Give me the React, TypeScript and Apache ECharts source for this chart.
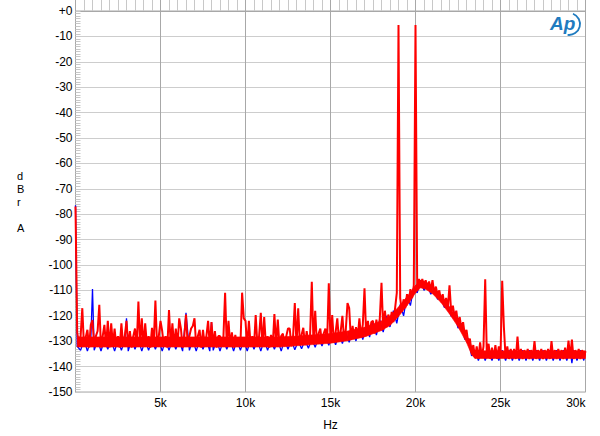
import React, { useEffect, useRef } from "react";
import * as echarts from "echarts";

// Red trace, one value per 100 Hz bin from 0 Hz to 30 kHz (dBr A)
const redStepHz = 100;
const redDb: number[] = [
  -77, -126.5, -131, -128, -117, -132, -128.5, -125.5, -132.5, -123.6,
  -121.7, -132, -128, -126, -115.7, -132.5, -128, -123.6, -132, -122,
  -132.5, -123, -131.5, -125, -132, -128, -132.5, -123, -131.5, -128,
  -122, -132, -126, -132.5, -128, -125, -132, -114.4, -131.5, -121,
  -132, -123, -131.5, -128, -132.5, -124.7, -131, -114, -132, -128,
  -122, -126, -132, -128, -132.5, -117.7, -131.5, -123, -132, -125,
  -132, -121, -125, -132.5, -128, -119.5, -131.5, -128, -125, -124,
  -121, -132, -128, -125.5, -132.5, -125.5, -131.5, -128, -122, -132,
  -122.5, -131.5, -126, -132.5, -128, -128, -132, -128.5, -110.9, -132,
  -122, -131.5, -126.5, -132.5, -127.5, -132, -128.5, -132, -110.9, -121,
  -122, -132.5, -122, -131.5, -128, -132, -119.7, -131.5, -128, -118.8,
  -132, -120.5, -131.5, -128, -132.5, -127.5, -132, -119.3, -131.5, -121.5,
  -132, -128, -127, -132, -128, -125, -125, -132, -128, -115,
  -131.5, -117, -131.5, -127.5, -124.7, -131.5, -126, -131, -127.5, -106.6,
  -131, -118, -131, -127, -125, -131, -127, -125, -130.5, -107.2,
  -130.5, -119.7, -130.5, -126.5, -121, -130, -126, -120, -129.5, -125.5,
  -115, -117, -129.5, -124, -129, -124.5, -128.5, -121, -128.5, -123.5,
  -109.2, -128, -122, -127.5, -122.5, -122, -127, -121.5, -126, -121,
  -107, -125.5, -118, -124.5, -119.5, -123.5, -118.5, -122.5, -117, -111,
  -5.5, -113, -118.5, -113.5, -117, -111.5, -115, -109.5, -113, -108,
  -5.5, -109, -105.5, -108.5, -105.5, -109, -106, -109.5, -106.5, -110,
  -106, -111, -108.5, -112, -110, -114, -111.5, -115.5, -113, -117,
  -108, -118.5, -116, -120.5, -118, -123, -120.5, -125, -122.5, -127.5,
  -125.5, -130.5, -129, -134.5, -131.5, -136.5, -132, -137, -130.5, -136.5,
  -132, -105.6, -136.5, -131, -137, -132.5, -136.5, -131.5, -137, -132,
  -136, -106.2, -124.5, -136.5, -132, -137, -133, -136.5, -133, -137,
  -128.2, -136.5, -133, -137, -133.5, -136.5, -133, -137, -133.5, -136.5,
  -130, -137, -133.5, -136.5, -133, -137, -133.5, -136.5, -133, -137,
  -130, -136.5, -133.5, -137, -133, -136.5, -133.5, -137, -132.5, -136.5,
  -129.8, -136.5, -129.4, -137, -133.5, -136.5, -133, -137, -133.5, -136.5,
  -134,
];

// Extent of the dense red noise band: frequency, top and bottom (dBr A)
const bandHz = [100, 12000, 13000, 14000, 15000, 16000, 17000, 18000, 18500, 19000, 19500, 20000, 20300, 20600, 21000, 21500, 22000, 22500, 23000, 23300, 23500, 30000];
const bandTop = [-128.3, -128.3, -128, -127.5, -127, -126, -124.5, -122, -120, -116.5, -112.5, -108, -106, -106.5, -108.5, -112, -116.5, -121.5, -127.5, -132, -133.8, -133.8];
const bandBottom = [-132.3, -132.3, -131.8, -131.3, -130.8, -129.8, -128.3, -125.8, -123.8, -120.3, -116, -111, -109, -109.5, -111.3, -114.8, -119.3, -124.3, -130.5, -135.3, -136.8, -136.8];

// Blue trace as [Hz, dBr A] readings
const bluePoints: [number, number][] = [
  [0, -76.5], [100, -132], [300, -133.6], [500, -129.5], [700, -133.9], [900, -129.5],
  [1000, -109.5], [1100, -133.6], [1300, -129.5], [1500, -133.9], [1700, -129.5], [1900, -133.2],
  [2100, -129.5], [2300, -133.9], [2500, -129.5], [2700, -133.6], [2900, -129.5], [3000, -121],
  [3100, -133.9], [3300, -129.5], [3500, -133.2], [3700, -129.5], [3900, -133.9], [4100, -129.5],
  [4300, -133.6], [4500, -129.5], [4700, -133.2], [4900, -129.5], [5100, -133.9], [5300, -129.5],
  [5500, -133.6], [5700, -129.5], [5900, -133.2], [6100, -129.5], [6300, -133.9], [6500, -118.8],
  [6700, -133.6], [6900, -129.5], [7100, -133.9], [7300, -129.5], [7500, -133.2], [7700, -129.5],
  [7900, -133.9], [8000, -122.5], [8100, -133.6], [8300, -129.5], [8500, -133.9], [8700, -129.5],
  [8900, -133.2], [9100, -129.5], [9300, -133.9], [9500, -129.5], [9700, -133.6], [9900, -129.5],
  [10100, -133.9], [10300, -129.5], [10500, -133.2], [10700, -129.5], [10900, -133.9], [11100, -129.5],
  [11300, -133.6], [11500, -129.5], [11700, -133.2], [11900, -129.5], [12100, -133.9], [12300, -129.5],
  [12500, -133.2], [12700, -129.5], [12900, -133.4], [13100, -130], [13300, -133], [13500, -129.5],
  [13700, -132.8], [13900, -129], [14100, -132.4], [14300, -128.5], [14500, -131.9], [14700, -128],
  [14900, -131.6], [15100, -127.5], [15300, -131.4], [15500, -127], [15700, -130.9], [15900, -126.5],
  [16100, -130.4], [16300, -125.5], [16500, -129.9], [16700, -124.5], [16900, -129.4], [17100, -123.5],
  [17300, -128.4], [17500, -122.5], [17700, -127.6], [17900, -121.5], [18100, -126.4], [18300, -120],
  [18500, -124.4], [18700, -118], [18900, -123], [19100, -115.5], [19300, -120], [19500, -112],
  [19700, -116], [19900, -108.5], [20100, -111], [20300, -106], [20500, -110], [20700, -107.5],
  [20900, -111.5], [21100, -109.5], [21300, -113.5], [21500, -112.5], [21700, -116.8], [21900, -115],
  [22100, -120.2], [22300, -118.5], [22500, -124.8], [22700, -123], [22900, -129.3], [23100, -129],
  [23300, -135.8], [23500, -133.5], [23700, -137.6], [23900, -133.5], [24100, -137.6], [24300, -133.5],
  [24500, -137.6], [24700, -133.5], [24900, -137.6], [25100, -133.5], [25300, -137.6], [25500, -133.5],
  [25700, -137.6], [25900, -133.5], [26100, -137.6], [26300, -133.5], [26500, -137.6], [26700, -133.5],
  [26900, -137.6], [27100, -133.5], [27300, -137.6], [27500, -133.5], [27700, -137.6], [27900, -133.5],
  [28100, -137.6], [28300, -133.5], [28500, -137.6], [28700, -133.5], [28900, -137.6], [29100, -133.5],
  [29200, -138.6], [29300, -133.5], [29500, -137.6], [29700, -133.5], [29900, -137.6], [30000, -134],
];

const xTickHz = [5000, 10000, 15000, 20000, 25000, 30000];
const yAxisName = ["d", "B", "r", "", "A"];

export default function App() {
  const ref = useRef<HTMLDivElement>(null);

  useEffect(() => {
    if (!ref.current) return;
    const chart = echarts.init(ref.current, null, { renderer: "svg" });
    const redData = redDb.map((v, i) => [i * redStepHz, v]);
    const bandData = bandHz.map((h, i) => [h, bandTop[i], bandBottom[i]]);
    const font = "Liberation Sans, Arial, sans-serif";
    chart.setOption({
      animation: false,
      backgroundColor: "#ffffff",
      grid: {
        left: 75.5,
        right: 14.5,
        top: 11,
        bottom: 44,
        show: true,
        borderColor: "#a8a8a8",
        borderWidth: 1,
      },
      xAxis: {
        type: "value",
        min: 0,
        max: 30000,
        interval: 5000,
        name: "Hz",
        nameLocation: "middle",
        nameGap: 27,
        nameTextStyle: { fontFamily: font, fontSize: 12, color: "#000" },
        axisLine: { show: true, lineStyle: { color: "#a8a8a8" } },
        axisTick: { show: true, inside: true, length: 13, lineStyle: { color: "#a8a8a8" } },
        minorTick: { show: true, splitNumber: 10, length: 13, lineStyle: { color: "#c8c8c8" } },
        axisLabel: {
          fontFamily: font,
          fontSize: 12,
          color: "#000",
          margin: 5,
          alignMaxLabel: "right",
          formatter: (v: number) => (xTickHz.includes(v) ? `${v / 1000}k` : ""),
        },
        splitLine: { show: true, lineStyle: { color: "#a8a8a8", width: 1 } },
      },
      yAxis: {
        type: "value",
        min: -150,
        max: 0,
        interval: 10,
        axisLine: { show: true, lineStyle: { color: "#a8a8a8" } },
        axisTick: { show: true, inside: true, length: 5, lineStyle: { color: "#c8c8c8" } },
        minorTick: { show: true, splitNumber: 10, length: 5, lineStyle: { color: "#c8c8c8" } },
        axisLabel: {
          fontFamily: font,
          fontSize: 12,
          color: "#000",
          margin: 3,
          formatter: (v: number) => (v === 0 ? "+0" : String(v)),
        },
        splitLine: { show: true, lineStyle: { color: "#cdcdcd", width: 1 } },
      },
      graphic: [
        {
          type: "text",
          left: 17,
          top: 169,
          style: {
            text: yAxisName.join("\n"),
            fontFamily: font,
            fontSize: 11,
            lineHeight: 13,
            fill: "#000",
            align: "center",
          },
        },
        {
          type: "text",
          x: 550,
          y: 14,
          style: {
            text: "Ap",
            fontFamily: font,
            fontSize: 19,
            fontStyle: "italic",
            fontWeight: "bold",
            fill: "#1f7bbf",
          },
        },
        {
          type: "arc",
          shape: { cx: 569, cy: 24, r: 11, startAngle: -1.2, endAngle: 1.7, clockwise: true },
          style: { stroke: "#1f7bbf", lineWidth: 1.8, fill: "none" },
        },
      ],
      series: [
        {
          type: "line",
          data: bluePoints,
          showSymbol: false,
          symbol: "none",
          lineStyle: { color: "#0000ff", width: 1.3 },
          z: 2,
        },
        {
          type: "custom",
          data: bandData,
          encode: { x: 0, y: [1, 2] },
          clip: true,
          z: 3,
          renderItem: (params: any, api: any) => {
            const i = params.dataIndex;
            if (i >= bandData.length - 1) return null;
            const a = bandData[i];
            const b = bandData[i + 1];
            const pts = [
              api.coord([a[0], a[1]]),
              api.coord([b[0], b[1]]),
              api.coord([b[0], b[2]]),
              api.coord([a[0], a[2]]),
            ];
            return {
              type: "polygon",
              shape: { points: pts },
              style: { fill: "#ff0000", stroke: "#ff0000", lineWidth: 0.6 },
            };
          },
        },
        {
          type: "line",
          data: redData,
          showSymbol: false,
          symbol: "none",
          lineStyle: { color: "#ff0000", width: 2 },
          z: 4,
        },
      ],
    });
    return () => chart.dispose();
  }, []);

  return (
    <div
      ref={ref}
      style={{ position: "fixed", left: 0, top: 0, width: 600, height: 436, background: "#fff" }}
    />
  );
}
